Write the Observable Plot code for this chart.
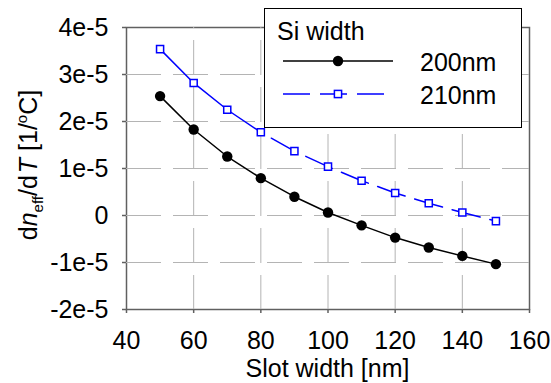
<!DOCTYPE html>
<html>
<head>
<meta charset="utf-8">
<script src="https://cdn.jsdelivr.net/npm/d3@7"></script>
<script src="https://cdn.jsdelivr.net/npm/@observablehq/plot@0.6"></script>
<style>
  html, body { margin: 0; padding: 0; background: #fff; }
  #chart svg { display: block; }
</style>
</head>
<body>
<div id="chart"></div>
<script>
// Thermo-optic coefficient of the slot mode vs. slot width, for two Si rail widths
const slotWidth = [50, 60, 70, 80, 90, 100, 110, 120, 130, 140, 150];
const dndT200 = [2.54e-5, 1.83e-5, 1.255e-5, 0.795e-5, 0.40e-5, 0.064e-5, -0.21e-5, -0.47e-5, -0.68e-5, -0.86e-5, -1.035e-5];
const dndT210 = [3.54e-5, 2.82e-5, 2.25e-5, 1.77e-5, 1.37e-5, 1.04e-5, 0.74e-5, 0.48e-5, 0.26e-5, 0.064e-5, -0.12e-5];
const seriesNames = ["200nm", "210nm"];
const legendTitle = "Si width";
const xTicks = [40, 60, 80, 100, 120, 140, 160];
const yTicks = [-2e-5, -1e-5, 0, 1e-5, 2e-5, 3e-5, 4e-5];
const yTickLabels = ["-2e-5", "-1e-5", "0", "1e-5", "2e-5", "3e-5", "4e-5"];
const xLabel = "Slot width [nm]";

const W = 551, H = 383;
const M = {left: 126, right: 22, top: 27, bottom: 74};
const font = "'Liberation Sans', Arial, Helvetica, sans-serif";
const axisGrey = "#606060";
const gridGrey = "#b4b4b4";
const blue = "#0000ff";
// the 210nm curve is solid up to this slot width and long-dashed beyond it
const solidUpTo = 80;

const s200 = slotWidth.map((x, i) => ({x, y: dndT200[i]}));
const s210 = slotWidth.map((x, i) => ({x, y: dndT210[i]}));

// interior grid positions (the outer ones sit on the frame)
const xGrid = xTicks.slice(1, -1);
const yGrid = yTicks.slice(1, -1);

const plot = Plot.plot({
  width: W,
  height: H,
  marginLeft: M.left,
  marginRight: M.right,
  marginTop: M.top,
  marginBottom: M.bottom,
  style: {fontFamily: font, fontSize: "25px", color: "#000", backgroundColor: "#fff"},
  x: {domain: [40, 160], label: null},
  y: {domain: [-2e-5, 4e-5], label: null},
  marks: [
    Plot.frame({stroke: axisGrey, strokeWidth: 1.5, fill: "none"}),
    // dashed light-grey grid
    Plot.ruleX(xGrid, {x: d => d, stroke: gridGrey, strokeWidth: 1, strokeDasharray: "35,12", strokeDashoffset: 34}),
    Plot.ruleY(yGrid, {y: d => d, stroke: gridGrey, strokeWidth: 1, strokeDasharray: "35,12"}),
    Plot.axisX(xTicks, {anchor: "bottom", tickSize: 4, tickPadding: 18, stroke: axisGrey, strokeWidth: 1.5, fill: "#000", label: null}),
    Plot.axisY(yTicks, {anchor: "left", tickSize: 4, tickPadding: 14, stroke: axisGrey, strokeWidth: 1.5, fill: "#000", label: null,
      tickFormat: v => yTickLabels[yTicks.indexOf(v)]}),
    Plot.line(s200, {x: "x", y: "y", stroke: "#000", strokeWidth: 1.5}),
    Plot.dot(s200, {x: "x", y: "y", r: 5.2, fill: "#000", stroke: "none"}),
    Plot.line(s210.filter(d => d.x <= solidUpTo), {x: "x", y: "y", stroke: blue, strokeWidth: 1.5}),
    Plot.line(s210.filter(d => d.x >= solidUpTo), {x: "x", y: "y", stroke: blue, strokeWidth: 1.5,
      strokeDasharray: "29,10", strokeDashoffset: 27}),
    Plot.dot(s210, {x: "x", y: "y", symbol: "square", r: 4, fill: "#fff", stroke: blue, strokeWidth: 1.5})
  ]
});

document.getElementById("chart").appendChild(plot);
const svg = d3.select(plot);

// x-axis title
svg.append("text")
  .attr("x", (M.left + W - M.right) / 2)
  .attr("y", 377)
  .attr("text-anchor", "middle")
  .attr("font-family", font)
  .attr("font-size", 25)
  .attr("fill", "#000")
  .text(xLabel);

// y-axis title: dn_eff/dT [1/°C]
const yt = svg.append("text")
  .attr("transform", `translate(37,${(M.top + H - M.bottom) / 2 - 3}) rotate(-90)`)
  .attr("text-anchor", "middle")
  .attr("font-family", font)
  .attr("font-size", 25)
  .attr("fill", "#000");
yt.append("tspan").text("d");
yt.append("tspan").attr("font-style", "italic").text("n");
yt.append("tspan").attr("font-size", 15).attr("dy", 6).text("eff");
yt.append("tspan").attr("dy", -6).text("/d");
yt.append("tspan").attr("dx", 2).attr("font-style", "italic").text("T");
yt.append("tspan").text(" [1/");
yt.append("tspan").attr("font-size", 15).attr("dy", -10).text("o");
yt.append("tspan").attr("dy", 10).text("C]");

// legend box
const lg = svg.append("g")
  .attr("font-family", font).attr("font-size", 25)
  .attr("fill", "#000").attr("text-anchor", "start");
lg.append("rect")
  .attr("x", 264.5).attr("y", 8.5).attr("width", 257).attr("height", 119)
  .attr("fill", "#fff").attr("stroke", "#000").attr("stroke-width", 1);
lg.append("text").attr("x", 277).attr("y", 40).text(legendTitle);

const rows = [
  {name: seriesNames[0], y: 61, color: "#000", dash: null, marker: "circle"},
  {name: seriesNames[1], y: 94, color: blue, dash: "27,10", marker: "square"}
];
rows.forEach(r => {
  lg.append("line")
    .attr("x1", 283).attr("x2", 393).attr("y1", r.y).attr("y2", r.y)
    .attr("stroke", r.color).attr("stroke-width", 1.5)
    .attr("stroke-dasharray", r.dash);
  if (r.marker === "circle") {
    lg.append("circle").attr("cx", 338).attr("cy", r.y).attr("r", 5.2).attr("fill", r.color);
  } else {
    lg.append("rect").attr("x", 338 - 3.6).attr("y", r.y - 3.6).attr("width", 7.2).attr("height", 7.2)
      .attr("fill", "#fff").attr("stroke", r.color).attr("stroke-width", 1.5);
  }
  lg.append("text").attr("x", 420).attr("y", r.y + 9.5).text(r.name);
});
</script>
</body>
</html>
